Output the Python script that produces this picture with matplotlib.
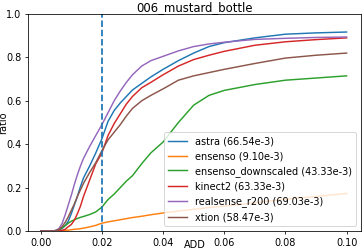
import numpy as np
import matplotlib
matplotlib.use("Agg")
import matplotlib.pyplot as plt

# ADD thresholds (x) and accuracy ratio per sensor
ADD = [0.000, 0.004, 0.005, 0.006, 0.007, 0.008, 0.009, 0.010, 0.011, 0.012,
       0.013, 0.014, 0.016, 0.018, 0.020, 0.022, 0.024, 0.026, 0.028, 0.030,
       0.033, 0.036, 0.040, 0.045, 0.050, 0.055, 0.060, 0.070, 0.080, 0.090,
       0.100]

astra = [0.0, 0.0, 0.0, 0.004, 0.012, 0.025, 0.045, 0.08, 0.12, 0.16,
         0.205, 0.245, 0.30, 0.36, 0.425, 0.505, 0.555, 0.59, 0.62, 0.65,
         0.68, 0.71, 0.745, 0.785, 0.82, 0.85, 0.868, 0.89, 0.907, 0.913,
         0.917]
ensenso = [0.0, 0.0, 0.0, 0.001, 0.002, 0.003, 0.004, 0.006, 0.008, 0.009,
           0.011, 0.013, 0.019, 0.026, 0.036, 0.042, 0.047, 0.052, 0.057, 0.062,
           0.068, 0.075, 0.083, 0.092, 0.10, 0.108, 0.115, 0.13, 0.147, 0.159,
           0.173]
ensenso_down = [0.0, 0.0, 0.002, 0.006, 0.015, 0.025, 0.036, 0.045, 0.052, 0.058,
                0.063, 0.067, 0.076, 0.088, 0.11, 0.145, 0.17, 0.20, 0.23, 0.255,
                0.31, 0.36, 0.41, 0.50, 0.58, 0.625, 0.648, 0.675, 0.695, 0.705,
                0.715]
kinect2 = [0.0, 0.0, 0.0, 0.0, 0.003, 0.008, 0.02, 0.03, 0.05, 0.08,
           0.115, 0.16, 0.235, 0.31, 0.36, 0.44, 0.495, 0.54, 0.585, 0.62,
           0.66, 0.685, 0.72, 0.76, 0.79, 0.81, 0.828, 0.856, 0.872, 0.882,
           0.89]
realsense = [0.0, 0.0, 0.003, 0.012, 0.035, 0.075, 0.12, 0.165, 0.215, 0.26,
             0.30, 0.335, 0.39, 0.44, 0.49, 0.545, 0.60, 0.645, 0.685, 0.72,
             0.76, 0.785, 0.805, 0.83, 0.85, 0.862, 0.87, 0.883, 0.888, 0.892,
             0.894]
xtion = [0.0, 0.0, 0.003, 0.008, 0.02, 0.04, 0.065, 0.095, 0.125, 0.16,
         0.19, 0.22, 0.27, 0.315, 0.37, 0.42, 0.455, 0.49, 0.53, 0.565,
         0.60, 0.625, 0.655, 0.695, 0.715, 0.73, 0.745, 0.772, 0.797, 0.81,
         0.82]

labels = ["astra (66.54e-3)", "ensenso (9.10e-3)", "ensenso_downscaled (43.33e-3)",
          "kinect2 (63.33e-3)", "realsense_r200 (69.03e-3)", "xtion (58.47e-3)"]
series = [astra, ensenso, ensenso_down, kinect2, realsense, xtion]
colors = ["tab:blue", "tab:orange", "tab:green", "tab:red", "tab:purple", "tab:brown"]
THRESH = 0.02

DPI = 70
fig = plt.figure(figsize=(362 / DPI, 252 / DPI), dpi=DPI)
ax = fig.add_axes([0.0787, 0.0833, 0.9185, 0.8611])

for ys, lbl, col in zip(series, labels, colors):
    ax.plot(ADD, ys, color=col, label=lbl)
ax.axvline(THRESH, color="tab:blue", ls="--", lw=1.8)

ax.set_xlim(-0.004, 0.1047)
ax.set_ylim(0, 1)
ax.set_xticks([0.0, 0.02, 0.04, 0.06, 0.08, 0.10])
ax.set_xticklabels(["0.00", "0.02", "0.04", "0.06", "0.08", "0.10"])
ax.set_xlabel("ADD", labelpad=-8)
ax.set_ylabel("ratio", labelpad=-1.5)
ax.set_title("006_mustard_bottle", pad=1)
ax.legend(loc="lower right")

fig.savefig("out.png", dpi=DPI)
